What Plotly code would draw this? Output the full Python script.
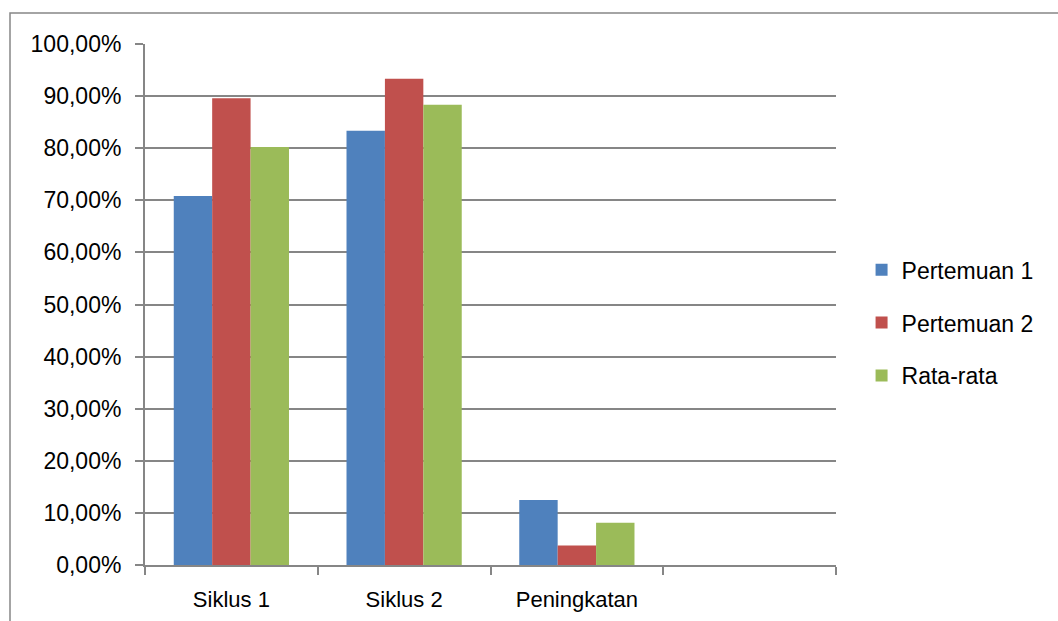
import plotly.graph_objects as go

categories = ["Siklus 1", "Siklus 2", "Peningkatan", " "]
pertemuan1 = [0.7083, 0.8333, 0.1250]
pertemuan2 = [0.8958, 0.9333, 0.0375]
rata_rata = [0.8021, 0.8833, 0.0812]
series_names = ["Pertemuan 1", "Pertemuan 2", "Rata-rata"]
colors = ["#4F81BD", "#C0504D", "#9BBB59"]
ytick_vals = [i / 10 for i in range(11)]
ytick_text = ["0,00%", "10,00%", "20,00%", "30,00%", "40,00%", "50,00%",
              "60,00%", "70,00%", "80,00%", "90,00%", "100,00%"]

FONT = "Liberation Sans"
fig = go.Figure()
for name, vals, col in zip(series_names, [pertemuan1, pertemuan2, rata_rata], colors):
    fig.add_trace(go.Bar(x=categories[:3], y=vals, name=name, marker_color=col,
                         marker_line_width=0, legendgroup=name))

fig.update_layout(
    width=1058, height=621,
    margin=dict(l=145, r=222, t=44, b=56),
    paper_bgcolor="white", plot_bgcolor="white",
    barmode="group", bargap=0.333, bargroupgap=0,
    font=dict(family=FONT, size=23, color="#000000"),
    legend=dict(x=1.037, xanchor="left", y=0.465, yanchor="middle",
                font=dict(family=FONT, size=23), tracegroupgap=20,
                bgcolor="rgba(0,0,0,0)"),
    xaxis=dict(type="category", categoryorder="array", categoryarray=categories,
               range=[-0.5, 3.5], tickson="boundaries", ticks="outside", ticklen=8,
               tickcolor="#868686", tickwidth=2, showline=True, linecolor="#868686",
               linewidth=2, showgrid=False, tickfont=dict(family=FONT, size=22),
               ticklabelstandoff=14, fixedrange=True, automargin=False),
    yaxis=dict(range=[0, 1.0], tickvals=ytick_vals, ticktext=ytick_text,
               ticks="outside", ticklen=8, tickcolor="#868686", tickwidth=2,
               showline=True, linecolor="#868686", linewidth=2,
               showgrid=True, gridcolor="#868686", gridwidth=2,
               zeroline=False, tickfont=dict(family=FONT, size=23), ticklabelstandoff=9,
               automargin=False),
    shapes=[dict(type="rect", xref="paper", yref="paper",
                 x0=(10 - 145) / 691, x1=(1070 - 145) / 691,
                 y0=(565 - 640) / 521, y1=(565 - 13) / 521,
                 line=dict(color="#878787", width=1.5), fillcolor="rgba(0,0,0,0)", layer="below")],
)

fig.write_html("out.html")
